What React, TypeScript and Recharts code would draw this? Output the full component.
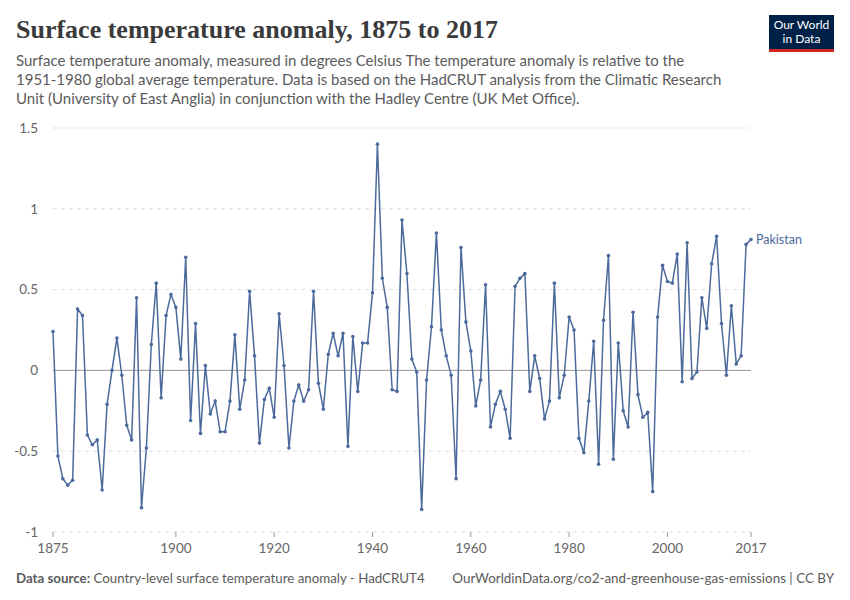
import React from "react";
import { LineChart, Line, XAxis, YAxis, CartesianGrid, ReferenceLine, LabelList } from "recharts";

const startYear = 1875;
const anomaly: number[] = [
  0.24, -0.53, -0.67, -0.71, -0.68, 0.38, 0.34, -0.4, -0.46, -0.43,
  -0.74, -0.21, 0.0, 0.2, -0.03, -0.34, -0.43, 0.45, -0.85, -0.48,
  0.16, 0.54, -0.17, 0.34, 0.47, 0.39, 0.07, 0.7, -0.31, 0.29,
  -0.39, 0.03, -0.27, -0.19, -0.38, -0.38, -0.19, 0.22, -0.24, -0.06,
  0.49, 0.09, -0.45, -0.18, -0.11, -0.29, 0.35, 0.03, -0.48, -0.19,
  -0.09, -0.19, -0.12, 0.49, -0.08, -0.24, 0.1, 0.23, 0.09, 0.23,
  -0.47, 0.21, -0.13, 0.17, 0.17, 0.48, 1.4, 0.57, 0.39, -0.12,
  -0.13, 0.93, 0.6, 0.07, -0.01, -0.86, -0.06, 0.27, 0.85, 0.25,
  0.09, -0.03, -0.67, 0.76, 0.3, 0.12, -0.22, -0.06, 0.53, -0.35,
  -0.21, -0.13, -0.24, -0.42, 0.52, 0.57, 0.6, -0.13, 0.09, -0.05,
  -0.3, -0.19, 0.54, -0.17, -0.03, 0.33, 0.25, -0.42, -0.51, -0.19,
  0.18, -0.58, 0.31, 0.71, -0.55, 0.17, -0.25, -0.35, 0.36, -0.15,
  -0.29, -0.26, -0.75, 0.33, 0.65, 0.55, 0.54, 0.72, -0.07, 0.79,
  -0.05, -0.01, 0.45, 0.26, 0.66, 0.83, 0.29, -0.03, 0.4, 0.04,
  0.09, 0.78, 0.81,
];
const seriesName = "Pakistan";
const yTicks = [-1, -0.5, 0, 0.5, 1, 1.5];
const xTicks = [1875, 1900, 1920, 1940, 1960, 1980, 2000, 2017];

const data = anomaly.map((v, i) => ({ year: startYear + i, value: v }));

const BLUE = "#4c6a9c";
const FONT = "Lato, 'Noto Sans', sans-serif";

const EndLabel = (props: any) => {
  const { x, y, index } = props;
  if (index !== data.length - 1) return null;
  return (
    <text x={x + 5} y={y + 1} fill={BLUE} fontSize={12.5} fontFamily={FONT} dominantBaseline="middle">
      {seriesName}
    </text>
  );
};

export default function App() {
  return (
    <div style={{ position: "absolute", left: 0, top: 0, width: 850, height: 600, background: "#fff", fontFamily: FONT }}>
      <div style={{ position: "absolute", left: 16, top: 15, fontFamily: "'Liberation Serif', 'DejaVu Serif', serif", fontSize: 26, fontWeight: 700, color: "#3a3a3a", whiteSpace: "nowrap" }}>
        Surface temperature anomaly, 1875 to 2017
      </div>
      <div style={{ position: "absolute", left: 16, top: 51, fontSize: 15, lineHeight: "19px", color: "#5b5b5b", whiteSpace: "nowrap" }}>
        Surface temperature anomaly, measured in degrees Celsius The temperature anomaly is relative to the
        <br />
        1951-1980 global average temperature. Data is based on the HadCRUT analysis from the Climatic Research
        <br />
        Unit (University of East Anglia) in conjunction with the Hadley Centre (UK Met Office).
      </div>
      <div style={{ position: "absolute", left: 769, top: 15, width: 65, height: 37, background: "#002147", borderBottom: "3px solid #ce261e", boxSizing: "border-box", color: "#fff", fontSize: 12, lineHeight: "14px", textAlign: "center", paddingTop: 3 }}>
        Our World
        <br />
        in Data
      </div>
      <div style={{ position: "absolute", left: 0, top: 0 }}>
        <LineChart width={850} height={600} data={data} margin={{ top: 128, right: 99, bottom: 0, left: 0 }}>
          <CartesianGrid vertical={false} stroke="#dddddd" strokeDasharray="4 4" />
          <XAxis
            dataKey="year"
            type="number"
            domain={[1875, 2017]}
            ticks={xTicks}
            interval={0}
            height={68}
            axisLine={false}
            tickLine={{ stroke: "#999" }}
            tickSize={5}
            tickMargin={6}
            tick={{ fill: "#666", fontSize: 13.5, fontFamily: FONT }}
          />
          <YAxis
            type="number"
            domain={[-1, 1.5]}
            ticks={yTicks}
            interval={0}
            width={53}
            axisLine={false}
            tickLine={false}
            tickSize={0}
            tickMargin={15}
            tick={{ fill: "#666", fontSize: 13.5, fontFamily: FONT }}
          />
          <ReferenceLine y={0} stroke="#999" strokeWidth={1} />
          <Line
            type="linear"
            dataKey="value"
            stroke={BLUE}
            strokeWidth={1.5}
            dot={{ r: 1.8, fill: BLUE, stroke: BLUE, strokeWidth: 0 }}
            activeDot={false}
            isAnimationActive={false}
          >
            <LabelList dataKey="value" content={<EndLabel />} />
          </Line>
        </LineChart>
      </div>
      <div style={{ position: "absolute", left: 16, top: 570, fontSize: 13.3, color: "#5b5b5b", whiteSpace: "nowrap" }}>
        <b>Data source:</b> Country-level surface temperature anomaly - HadCRUT4
      </div>
      <div style={{ position: "absolute", right: 16, top: 570, fontSize: 13.4, color: "#5b5b5b", whiteSpace: "nowrap" }}>
        OurWorldinData.org/co2-and-greenhouse-gas-emissions | CC BY
      </div>
    </div>
  );
}
